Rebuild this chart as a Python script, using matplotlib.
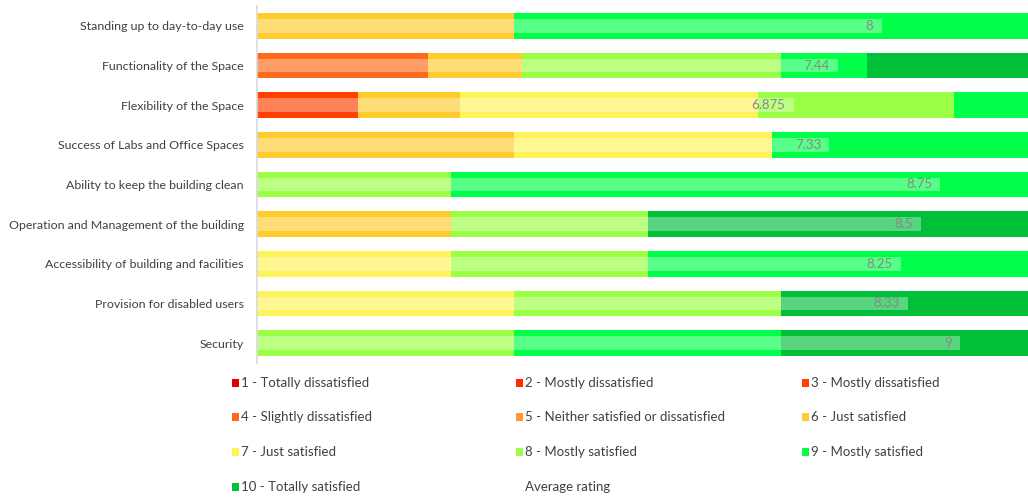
import matplotlib
matplotlib.use("Agg")
import matplotlib.pyplot as plt
from matplotlib.patches import Rectangle
import numpy as np

categories = ["Standing up to day-to-day use", "Functionality of the Space",
              "Flexibility of the Space", "Success of Labs and Office Spaces",
              "Ability to keep the building clean",
              "Operation and Management of the building",
              "Accessibility of building and facilities",
              "Provision for disabled users", "Security"]

levels = ["1 - Totally dissatisfied", "2 - Mostly dissatisfied", "3 - Mostly dissatisfied",
          "4 - Slightly dissatisfied", "5 - Neither satisfied or dissatisfied",
          "6 - Just satisfied", "7 - Just satisfied", "8 - Mostly satisfied",
          "9 - Mostly satisfied", "10 - Totally satisfied"]

# share of responses (%) per rating level, one value per category
r1 = [0, 0, 0, 0, 0, 0, 0, 0, 0]
r2 = [0, 0, 0, 0, 0, 0, 0, 0, 0]
r3 = [0, 0, 12.9, 0, 0, 0, 0, 0, 0]
r4 = [0, 21.9, 0, 0, 0, 0, 0, 0, 0]
r5 = [0, 0, 0, 0, 0, 0, 0, 0, 0]
r6 = [32.9, 12.0, 13.1, 32.9, 0, 24.9, 0, 0, 0]
r7 = [0, 0, 38.2, 33.1, 0, 0, 24.9, 32.9, 0]
r8 = [0, 33.2, 25.0, 0, 24.9, 25.1, 25.1, 34.2, 32.9]
r9 = [67.1, 11.0, 10.8, 34.0, 75.1, 0, 50.0, 0, 34.2]
r10 = [0, 21.9, 0, 0, 0, 50.0, 0, 32.9, 32.9]

average = [8, 7.44, 6.875, 7.33, 8.75, 8.5, 8.25, 8.33, 9]
average_labels = ["8", "7.44", "6.875", "7.33", "8.75", "8.5", "8.25", "8.33", "9"]

colors = ['#E00000', '#FF2A00', '#FF4000', '#FF6A1A', '#FF9A2E',
          '#FFCC2E', '#FFF35A', '#9BFF45', '#00FF48', '#00C03A']

plt.rcParams['font.family'] = ['Lato', 'DejaVu Sans']
text_color = '#404040'

fig = plt.figure(figsize=(10.28, 4.97), dpi=100)
ax = fig.add_axes([257 / 1028, 134 / 497, 781 / 1028, 357 / 497])

series = [r1, r2, r3, r4, r5, r6, r7, r8, r9, r10]
y = np.arange(len(categories))
left = np.zeros(len(categories))
for vals, col in zip(series, colors):
    v = np.array(vals, dtype=float)
    ax.barh(y, v, left=left, height=0.655, color=col, edgecolor='none')
    left += v

avg_pct = np.array(average) * 10
ax.barh(y, avg_pct, height=0.35, color='white', alpha=0.35, edgecolor='none')
for yi, xv, lab in zip(y, avg_pct, average_labels):
    ax.annotate(lab, (xv, yi), xytext=(-6, 0), textcoords='offset points',
                ha='right', va='center', fontsize=9.5, color='#888888')

ax.set_xlim(0, 100)
ax.set_ylim(len(categories) - 0.5, -0.5)
ax.set_yticks(y)
ax.set_yticklabels(categories, fontsize=8.9, color=text_color)
ax.tick_params(axis='y', length=0, pad=9.5)
ax.xaxis.set_visible(False)
for s in ['top', 'right', 'bottom']:
    ax.spines[s].set_visible(False)
ax.spines['left'].set_color('#D9D9D9')
ax.spines['left'].set_linewidth(1.2)

# legend laid out in a 3-column grid
leg_labels = levels + ["Average rating"]
leg_colors = colors + [None]
col_x = [232, 516, 802]
row_y = [383, 417, 452, 487]
for i, (lab, col) in enumerate(zip(leg_labels, leg_colors)):
    r, c = divmod(i, 3)
    px, py = col_x[c], row_y[r]
    if col is not None:
        fig.add_artist(Rectangle((px / 1028, (497 - py - 4) / 497), 7 / 1028, 8 / 497,
                                 transform=fig.transFigure, color=col, lw=0))
    fig.text((px + 9) / 1028, (497 - py) / 497, lab, ha='left', va='center',
             fontsize=9.5, color=text_color)

fig.savefig("out.png", dpi=100)
